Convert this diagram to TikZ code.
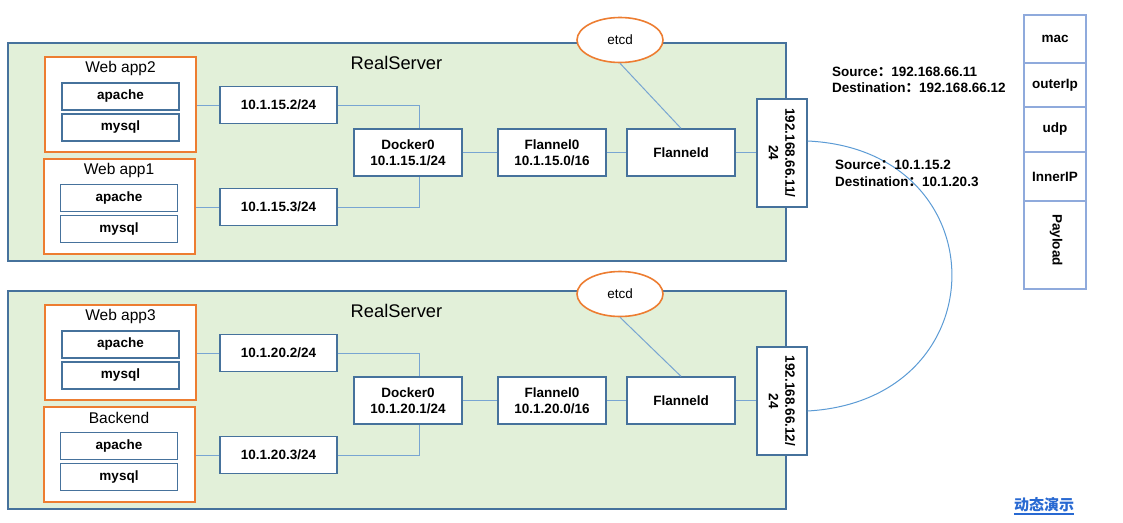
\documentclass[tikz,border=0pt]{standalone}
\usepackage{fontspec}
\setmainfont{Liberation Sans}
\newfontfamily\cjk{Noto Sans CJK SC}
\usetikzlibrary{shapes.geometric,calc}
\definecolor{greenf}{RGB}{226,240,217}
\definecolor{boxc}{RGB}{70,114,156}
\definecolor{orangec}{RGB}{237,125,49}
\definecolor{linec}{RGB}{120,165,210}
\definecolor{pktc}{RGB}{143,170,220}
\definecolor{arcc}{RGB}{91,155,213}
\definecolor{linkc}{RGB}{40,105,210}
\begin{document}
\begin{tikzpicture}[x=1pt,y=-1pt,
  server/.style={draw=boxc, fill=greenf, line width=1.3pt, minimum width=778pt, minimum height=218pt, inner sep=0pt},
  app/.style={draw=orangec, fill=white, line width=1.6pt, minimum width=151pt, minimum height=95pt, inner sep=0pt},
  bx/.style={draw=boxc, fill=white, line width=1.3pt, inner sep=0pt, align=center, font=\bfseries\fontsize{13.5}{16.5}\selectfont},
  sub/.style={bx, minimum width=117pt, minimum height=27pt},
  ipb/.style={bx, minimum width=117pt, minimum height=37pt},
  mid/.style={bx, minimum width=108pt, minimum height=47pt},
  hostip/.style={bx, rotate=-90, minimum width=108pt, minimum height=50pt},
  etcdn/.style={ellipse, draw=orangec, fill=white, line width=1.6pt, minimum width=86pt, minimum height=45pt, inner sep=0pt, font=\fontsize{13.5}{16}\selectfont},
  lbl/.style={font=\fontsize{15.5}{18}\selectfont, inner sep=0pt},
  srvlbl/.style={font=\fontsize{18.3}{21}\selectfont, inner sep=0pt},
  conn/.style={draw=linec, line width=1pt},
  pkt/.style={draw=pktc, line width=1.3pt, minimum width=62pt, inner sep=0pt, font=\bfseries\fontsize{13.5}{16}\selectfont},
  note/.style={anchor=west, inner sep=0pt, font=\bfseries\fontsize{13.5}{16}\selectfont},
]
\fill[white] (0,0) rectangle (1123,522);
\useasboundingbox (0,0) rectangle (1123,522);

% ---------- top server ----------
\node[server] (srvA) at (397,152) {};
\node[srvlbl] (rsA) at (396.5,63) {RealServer};
\node[app] (app2) at (120.5,104.5) {};
\node[lbl] (app2l) at (120.5,68) {Web app2};
\node[sub] (apa2) at (120.5,96.5) {apache};
\node[sub] (my2) at (120.5,127.5) {mysql};
\node[app] (app1) at (119.5,206.5) {};
\node[lbl] (app1l) at (119,170) {Web app1};
\node[sub] (apa1) at (119,198) {apache};
\node[sub] (my1) at (119,229) {mysql};
\node[ipb] (ipA2) at (278.5,105) {10.1.15.2/24};
\node[ipb] (ipA3) at (278.5,207) {10.1.15.3/24};
\node[mid] (dockA) at (408,152.5) {Docker0\\10.1.15.1/24};
\node[mid] (flA) at (552,152.5) {Flannel0\\10.1.15.0/16};
\node[mid] (fdA) at (681,152.5) {Flanneld};
\node[hostip] (hA) at (782,153) {192.168.66.11/\\24};
\node[etcdn] (etA) at (620,40) {etcd};

\draw[conn] (ipA2.west) -- (ipA2.west -| app2.east);
\draw[conn] (ipA3.west) -- (ipA3.west -| app1.east);
\draw[conn] (ipA2.east) -| ([xshift=11pt]dockA.north);
\draw[conn] (ipA3.east) -| ([xshift=11pt]dockA.south);
\draw[conn] (dockA.east) -- (flA.west);
\draw[conn] (flA.east) -- (fdA.west);
\draw[conn] (fdA.east) -- (fdA.east -| hA.south);
\draw[conn] (etA.south) -- (fdA.north);

% ---------- bottom server ----------
\node[server] (srvB) at (397,400) {};
\node[srvlbl] (rsB) at (396.5,311) {RealServer};
\node[app] (app3) at (120.5,352.5) {};
\node[lbl] (app3l) at (120.5,316) {Web app3};
\node[sub] (apa3) at (120.5,344.5) {apache};
\node[sub] (my3) at (120.5,375.5) {mysql};
\node[app] (be) at (119.5,454.5) {};
\node[lbl] (bel) at (119,418) {Backend};
\node[sub] (apab) at (119,446) {apache};
\node[sub] (myb) at (119,477) {mysql};
\node[ipb] (ipB2) at (278.5,353) {10.1.20.2/24};
\node[ipb] (ipB3) at (278.5,455) {10.1.20.3/24};
\node[mid] (dockB) at (408,400.5) {Docker0\\10.1.20.1/24};
\node[mid] (flB) at (552,400.5) {Flannel0\\10.1.20.0/16};
\node[mid] (fdB) at (681,400.5) {Flanneld};
\node[hostip] (hB) at (782,401) {192.168.66.12/\\24};
\node[etcdn] (etB) at (620,294) {etcd};

\draw[conn] (ipB2.west) -- (ipB2.west -| app3.east);
\draw[conn] (ipB3.west) -- (ipB3.west -| be.east);
\draw[conn] (ipB2.east) -| ([xshift=11pt]dockB.north);
\draw[conn] (ipB3.east) -| ([xshift=11pt]dockB.south);
\draw[conn] (dockB.east) -- (flB.west);
\draw[conn] (flB.east) -- (fdB.west);
\draw[conn] (fdB.east) -- (fdB.east -| hB.south);
\draw[conn] (etB.south) -- (fdB.north);

% ---------- link between hosts ----------
\draw[arcc, line width=1pt] ([yshift=12pt]hA.north) .. controls (1000,150) and (1000,400) .. ([yshift=-10pt]hB.north);

% ---------- notes ----------
\node[note] (srcA) at (832,72) {Source{\cjk ：}192.168.66.11};
\node[note] (dstA) at (832,88) {Destination{\cjk ：}192.168.66.12};
\node[note] (srcB) at (835,165) {Source{\cjk ：}10.1.15.2};
\node[note] (dstB) at (835,181.5) {Destination{\cjk ：}10.1.20.3};

% ---------- packet ----------
\node[pkt, minimum height=48pt] (mac) at (1055,39) {mac};
\node[pkt, minimum height=44pt] (outer) at (1055,85) {outerIp};
\node[pkt, minimum height=45pt] (udp) at (1055,129.5) {udp};
\node[pkt, minimum height=49pt] (inner) at (1055,176.5) {InnerIP};
\node[pkt, minimum height=88pt] (pay) at (1055,245) {};
\node[rotate=-90, inner sep=0pt, font=\bfseries\fontsize{13.5}{16}\selectfont] (payl) at (1056,240) {Payload};

% ---------- link text ----------
\node[inner sep=0pt, text=linkc, font=\cjk\bfseries\fontsize{15}{17}\selectfont] (lnk) at (1044,505) {动态演示};
\draw[linkc, line width=1.3pt] ([yshift=-1.5pt]lnk.south west) -- ([yshift=-1.5pt]lnk.south east);
\end{tikzpicture}
\end{document}
